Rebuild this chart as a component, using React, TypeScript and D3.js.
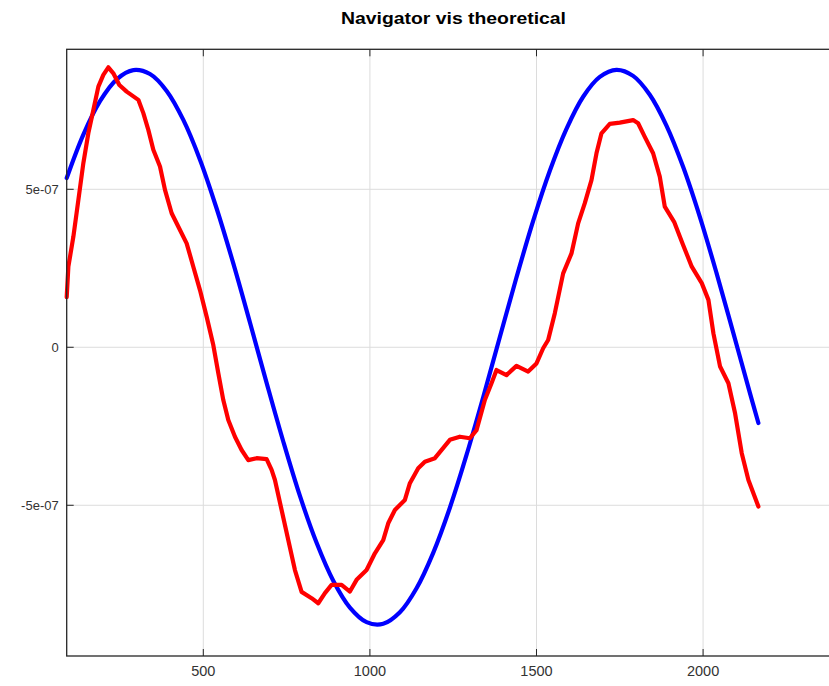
import React from "react";
import * as d3 from "d3";

// Theoretical curve (blue), sampled values (x, value in units of 1e-7)
const blueX = [90, 140, 190, 240, 290, 340, 390, 440, 490, 540, 590, 640, 690, 740, 790, 840, 890, 940, 990, 1040, 1090, 1140, 1190, 1240, 1290, 1340, 1390, 1440, 1490, 1540, 1590, 1640, 1690, 1740, 1790, 1840, 1890, 1940, 1990, 2040, 2090, 2140, 2166];
const blueY = [5.355, 6.732, 7.79, 8.481, 8.772, 8.647, 8.113, 7.196, 5.938, 4.392, 2.653, 0.783, -1.125, -2.981, -4.704, -6.188, -7.388, -8.239, -8.7, -8.75, -8.386, -7.626, -6.505, -5.077, -3.408, -1.58, 0.325, 2.215, 3.999, 5.586, 6.912, 7.928, 8.556, 8.78, 8.589, 7.992, 7.016, 5.71, 4.135, 2.362, 0.478, -1.428, -2.397];

// Navigator curve (red)
const redX = [90, 95, 110, 125, 140, 155, 170, 185, 200, 215, 230, 248, 270, 305, 320, 335, 350, 370, 385, 405, 430, 450, 470, 490, 510, 530, 545, 560, 575, 595, 615, 635, 660, 690, 705, 715, 735, 755, 775, 795, 825, 845, 865, 885, 915, 940, 960, 990, 1015, 1040, 1055, 1075, 1105, 1120, 1145, 1165, 1195, 1240, 1270, 1300, 1320, 1345, 1365, 1380, 1410, 1440, 1475, 1500, 1520, 1535, 1555, 1580, 1605, 1625, 1645, 1665, 1680, 1695, 1720, 1750, 1790, 1805, 1825, 1850, 1870, 1885, 1913, 1940, 1966, 1996, 2016, 2031, 2051, 2076, 2096, 2116, 2136, 2166];
const redY = [1.59, 2.55, 3.5, 4.66, 5.83, 6.78, 7.51, 8.25, 8.62, 8.86, 8.67, 8.3, 8.09, 7.83, 7.41, 6.88, 6.25, 5.72, 4.98, 4.24, 3.71, 3.29, 2.55, 1.81, 0.97, 0.07, -0.82, -1.67, -2.3, -2.83, -3.25, -3.57, -3.51, -3.54, -3.88, -4.2, -5.15, -6.1, -7.05, -7.74, -7.94, -8.1, -7.78, -7.52, -7.52, -7.73, -7.36, -7.05, -6.52, -6.1, -5.57, -5.15, -4.83, -4.3, -3.83, -3.62, -3.51, -2.93, -2.83, -2.88, -2.62, -1.67, -1.14, -0.72, -0.88, -0.59, -0.77, -0.51, -0.03, 0.23, 1.08, 2.34, 2.97, 3.92, 4.56, 5.29, 6.14, 6.77, 7.07, 7.11, 7.19, 7.09, 6.66, 6.14, 5.4, 4.45, 3.97, 3.24, 2.55, 2.03, 1.5, 0.44, -0.61, -1.14, -2.09, -3.35, -4.2, -5.04];

const xTicks = [500, 1000, 1500, 2000];
const yTicks = [5e-7, 0, -5e-7];
const yTickLabels = ["5e-07", "0", "-5e-07"];
const title = "Navigator vis theoretical";

const W = 829;
const H = 686;
const left = 66.7;
const right = 839.7;
const top = 49.3;
const bottom = 656;

export default function App() {
  const x = d3.scaleLinear().domain([90, 2410]).range([left, right]);
  const y = d3.scaleLinear().domain([-9.77e-7, 9.43e-7]).range([bottom, top]);
  const blueLine = d3
    .line<[number, number]>()
    .x((d) => x(d[0]))
    .y((d) => y(d[1] * 1e-7))
    .curve(d3.curveCatmullRom.alpha(0.5));
  const redLine = d3
    .line<[number, number]>()
    .x((d) => x(d[0]))
    .y((d) => y(d[1] * 1e-7));
  const blue = blueX.map((v, i) => [v, blueY[i]] as [number, number]);
  const red = redX.map((v, i) => [v, redY[i]] as [number, number]);
  const font = "'Liberation Sans', Arial, Helvetica, sans-serif";
  const axisColor = "#262626";
  const gridColor = "#dcdcdc";
  return (
    <svg
      width={W}
      height={H}
      style={{ position: "absolute", left: 0, top: 0, background: "#fff" }}
      fontFamily={font}
    >
      <rect x={0} y={0} width={W} height={H} fill="#fff" />
      <text
        x={453.5}
        y={24}
        textAnchor="middle"
        fontSize={16}
        fontWeight="bold"
        fill="#000"
        textLength={225}
        lengthAdjust="spacingAndGlyphs"
      >
        {title}
      </text>
      {/* grid */}
      {xTicks.map((t) => (
        <line key={"gx" + t} x1={x(t)} x2={x(t)} y1={top} y2={bottom} stroke={gridColor} strokeWidth={1} />
      ))}
      {yTicks.map((t) => (
        <line key={"gy" + t} x1={left} x2={right} y1={y(t)} y2={y(t)} stroke={gridColor} strokeWidth={1} />
      ))}
      {/* curves */}
      <path d={blueLine(blue) ?? ""} fill="none" stroke="#0000ff" strokeWidth={4.2} strokeLinejoin="round" strokeLinecap="round" />
      <path d={redLine(red) ?? ""} fill="none" stroke="#ff0000" strokeWidth={4.2} strokeLinejoin="round" strokeLinecap="round" />
      {/* box */}
      <rect x={left} y={top} width={right - left} height={bottom - top} fill="none" stroke={axisColor} strokeWidth={1.3} />
      {/* ticks */}
      {xTicks.map((t) => (
        <g key={"tx" + t}>
          <line x1={x(t)} x2={x(t)} y1={bottom} y2={bottom - 7} stroke={axisColor} strokeWidth={1} />
          <line x1={x(t)} x2={x(t)} y1={top} y2={top + 7} stroke={axisColor} strokeWidth={1} />
          <text x={x(t)} y={bottom + 20} textAnchor="middle" fontSize={14.5} fill="#333">
            {t}
          </text>
        </g>
      ))}
      {yTicks.map((t, i) => (
        <g key={"ty" + t}>
          <line x1={left} x2={left + 7} y1={y(t)} y2={y(t)} stroke={axisColor} strokeWidth={1} />
          <text x={left - 8} y={y(t) + 4.5} textAnchor="end" fontSize={13} fill="#333">
            {yTickLabels[i]}
          </text>
        </g>
      ))}
    </svg>
  );
}
